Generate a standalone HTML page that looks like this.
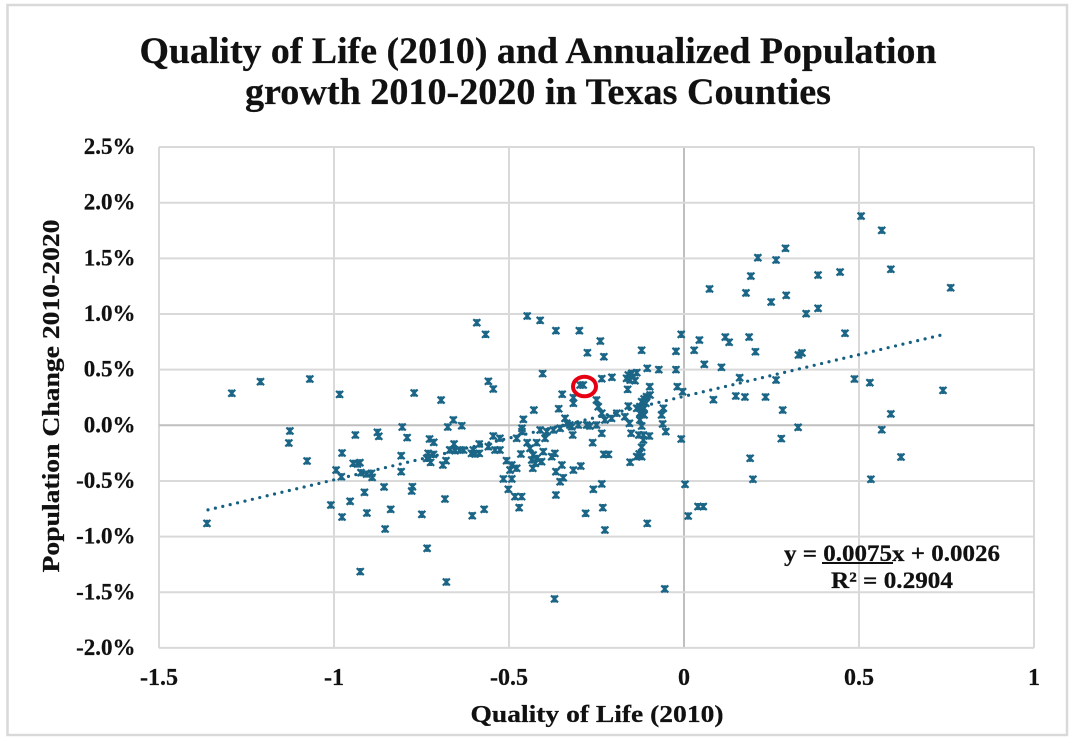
<!DOCTYPE html>
<html lang="en">
<head>
<meta charset="utf-8">
<title>Quality of Life and Population Growth in Texas Counties</title>
<style>
html,body{margin:0;padding:0;background:#fff;}
svg{display:block;}
text{font-family:"Liberation Serif",serif;font-weight:bold;fill:#111;stroke:#111;stroke-width:.25px;}
</style>
</head>
<body>
<svg id="chart" width="1076" height="743" viewBox="0 0 1076 743" xmlns="http://www.w3.org/2000/svg">
<rect x="7.5" y="5" width="1059.5" height="730" fill="#fff" stroke="#d9d9d9" stroke-width="2.5"/>
<g id="grid"></g>
<g id="trend"></g>
<g id="points"></g>
<g id="ticks"></g>
<text x="538" y="63" text-anchor="middle" font-size="37" textLength="797" lengthAdjust="spacingAndGlyphs">Quality of Life (2010) and Annualized Population</text>
<text x="538" y="104" text-anchor="middle" font-size="37" textLength="586" lengthAdjust="spacingAndGlyphs">growth 2010-2020 in Texas Counties</text>
<text x="597" y="722" text-anchor="middle" font-size="24" textLength="253" lengthAdjust="spacingAndGlyphs">Quality of Life (2010)</text>
<text transform="translate(59 396) rotate(-90)" text-anchor="middle" font-size="24" textLength="353" lengthAdjust="spacingAndGlyphs">Population Change 2010-2020</text>
<text x="892" y="561" text-anchor="middle" font-size="23.5" textLength="216" lengthAdjust="spacingAndGlyphs">y = 0.0075x + 0.0026</text>
<rect x="822" y="562" width="71" height="2" fill="#111"/>
<text x="892" y="588" text-anchor="middle" font-size="23.5" textLength="122" lengthAdjust="spacingAndGlyphs">R² = 0.2904</text>
<ellipse cx="584.5" cy="386.5" rx="11.5" ry="9.8" fill="none" stroke="#e60012" stroke-width="4"/>
</svg>
<script>
const xTicks = [-1.5, -1, -0.5, 0, 0.5, 1];
const xTickLabels = ['-1.5', '-1', '-0.5', '0', '0.5', '1'];
const yTicks = [2.5, 2, 1.5, 1, 0.5, 0, -0.5, -1, -1.5, -2];
const yTickLabels = ['2.5%', '2.0%', '1.5%', '1.0%', '0.5%', '0.0%', '-0.5%', '-1.0%', '-1.5%', '-2.0%'];
const trendSlope = 0.75;
const trendIntercept = 0.26;
const trendRange = [-1.36, 0.74];
const qualityOfLife = [
-1.292,-1.210,-1.069,-0.984,-0.771,-0.694,-1.126,-1.129,-1.077,-0.939,-0.876,-0.872,-0.805,-0.791,-0.727,-0.715,-0.675,-0.977,-0.808,
-0.731,-0.716,-0.735,-0.724,-0.731,-0.689,-0.680,-0.945,-0.926,-0.933,-0.923,-0.907,-0.893,-0.891,-0.994,-0.979,-0.808,-0.857,-0.776,-0.778,
-0.683,-0.913,-0.954,-1.009,-0.977,-0.906,-0.838,-0.749,-0.854,-0.734,-0.925,-0.679,-1.363,-0.669,
-0.592,-0.567,-0.448,-0.411,-0.366,-0.299,-0.239,-0.276,-0.229,-0.121,-0.023,-0.008,-0.404,-0.559,-0.545,-0.235,-0.206,-0.105,-0.072,-0.023,-0.019,-0.004,
-0.159,-0.149,-0.135,-0.164,-0.154,-0.140,-0.161,-0.098,-0.097,-0.107,-0.114,-0.121,-0.109,-0.126,-0.114,-0.135,-0.126,-0.114,-0.159,-0.169,-0.156,-0.121,-0.126,
-0.059,-0.064,-0.061,-0.052,-0.008,-0.151,-0.129,-0.116,-0.099,-0.116,-0.121,-0.128,-0.135,-0.121,-0.154,-0.229,-0.216,-0.261,-0.235,
-0.250,-0.245,-0.235,-0.226,-0.207,-0.192,-0.278,-0.250,-0.269,-0.302,-0.297,-0.288,-0.348,-0.316,-0.316,-0.358,-0.429,-0.459,-0.340,-0.326,-0.318,-0.321,
-0.411,-0.392,-0.373,-0.354,-0.335,-0.397,-0.478,-0.463,-0.463,-0.448,-0.440,-0.421,-0.402,-0.369,-0.378,-0.466,-0.431,-0.421,-0.407,-0.435,-0.432,-0.425,
-0.349,-0.366,-0.316,-0.295,-0.345,-0.354,-0.235,-0.259,-0.366,-0.281,-0.232,-0.226,-0.105,0.003,0.012,
-0.507,-0.492,-0.478,-0.497,-0.516,-0.492,-0.502,-0.483,-0.464,-0.471,-0.571,-0.605,-0.659,-0.635,-0.545,-0.526,-0.585,-0.559,-0.540,-0.526,
-0.657,-0.669,-0.654,-0.640,-0.630,-0.607,-0.597,-0.585,-0.602,
0.506,0.565,0.591,0.762,0.290,0.211,0.263,0.191,0.383,0.446,0.073,0.177,0.292,0.249,0.383,0.349,0.460,0.044,0.029,0.118,0.129,0.186,0.204,0.327,0.337,
0.058,0.107,0.159,0.263,0.487,0.531,0.740,0.084,0.148,0.174,0.233,0.282,0.591,0.326,0.565,0.278,0.620,0.189,0.197,0.534,
-0.055,-0.370,0.040,0.055
];
const populationChange = [
0.288,0.392,0.416,0.278,0.290,0.227,-0.051,-0.159,-0.321,-0.087,-0.063,-0.099,-0.015,-0.111,-0.123,-0.153,-0.015,-0.249,-0.273,
-0.252,-0.261,-0.297,-0.333,-0.288,-0.357,-0.318,-0.342,-0.336,-0.348,-0.426,-0.438,-0.432,-0.468,-0.402,-0.462,-0.417,-0.554,-0.552,-0.590,
-0.662,-0.602,-0.683,-0.716,-0.824,-0.788,-0.755,-0.800,-0.932,-1.105,-1.315,-1.408,-0.881,-0.222,
0.922,0.817,0.982,0.943,0.850,0.850,0.757,0.652,0.616,0.674,0.665,0.817,0.464,0.395,0.326,0.419,0.431,0.512,0.500,0.500,0.347,0.302,
0.452,0.467,0.473,0.422,0.407,0.401,0.323,0.347,0.272,0.257,0.236,0.212,0.198,0.167,0.153,0.153,0.108,0.093,0.173,0.077,0.018,-0.006,0.048,
0.153,0.093,0.012,-0.057,-0.123,-0.072,-0.087,-0.087,-0.096,-0.132,-0.198,-0.258,-0.282,-0.282,-0.332,-0.261,-0.261,-0.156,-0.072,
0.227,0.167,0.108,0.048,0.063,0.108,0.003,0.003,-0.006,0.003,0.362,0.362,0.279,0.248,0.198,0.149,0.137,0.054,0.063,0.003,-0.087,-0.013,
-0.042,-0.057,-0.042,-0.027,0.018,-0.117,-0.117,-0.027,-0.057,-0.156,-0.207,-0.156,-0.237,-0.252,-0.282,-0.258,-0.267,-0.297,-0.327,-0.312,-0.386,-0.342,
-0.357,-0.417,-0.402,-0.366,-0.471,-0.507,-0.527,-0.575,-0.626,-0.791,-0.740,-0.941,-0.881,-0.530,-0.815,
-0.318,-0.357,-0.386,-0.402,-0.482,-0.482,-0.575,-0.641,-0.641,-0.740,-0.755,-0.812,0.048,-0.004,-0.096,-0.117,-0.168,-0.192,-0.222,-0.222,
-0.168,-0.222,-0.228,-0.222,-0.222,-0.252,-0.258,-0.252,-0.222,
1.880,1.752,1.402,1.236,1.590,1.506,1.485,1.341,1.350,1.377,1.225,1.189,1.168,1.108,1.051,1.003,0.827,0.766,0.674,0.793,0.746,0.793,0.661,0.632,0.650,
0.548,0.521,0.428,0.407,0.416,0.383,0.314,0.230,0.263,0.254,0.254,0.137,0.102,-0.018,-0.040,-0.120,-0.285,-0.296,-0.485,-0.485,
-1.470,-1.560,-0.730,-0.730
];

const NS = 'http://www.w3.org/2000/svg';
const xScale = v => 684 + v * 350;
const yScale = v => 425.3 - v * 111.3;
const gridLayer = document.getElementById('grid');
const trendLayer = document.getElementById('trend');
const pointLayer = document.getElementById('points');
const tickLayer = document.getElementById('ticks');

function line(parent, x1, y1, x2, y2, stroke, width) {
  const el = document.createElementNS(NS, 'line');
  el.setAttribute('x1', x1);
  el.setAttribute('y1', y1);
  el.setAttribute('x2', x2);
  el.setAttribute('y2', y2);
  el.setAttribute('stroke', stroke);
  el.setAttribute('stroke-width', width);
  parent.appendChild(el);
  return el;
}

const xMin = xScale(xTicks[0]);
const xMax = xScale(xTicks[xTicks.length - 1]);
const yTop = yScale(yTicks[0]);
const yBottom = yScale(yTicks[yTicks.length - 1]);

xTicks.forEach((t, i) => {
  const gl = line(gridLayer, xScale(t), yTop, xScale(t), yBottom, t === 0 ? '#bfbfbf' : '#d9d9d9', 2);
  
  
  const label = document.createElementNS(NS, 'text');
  
  
  label.setAttribute('x', xScale(t));
  label.setAttribute('y', 685);
  label.setAttribute('text-anchor', 'middle');
  label.setAttribute('font-size', '24');
  label.textContent = xTickLabels[i];
  tickLayer.appendChild(label);
});

yTicks.forEach((t, i) => {
  const gl = line(gridLayer, xMin, yScale(t), xMax, yScale(t), t === 0 ? '#bfbfbf' : '#d9d9d9', 2);
  
  
  const label = document.createElementNS(NS, 'text');
  
  
  label.setAttribute('x', 135.5);
  label.setAttribute('y', yScale(t) + 7);
  label.setAttribute('text-anchor', 'end');
  label.setAttribute('font-size', '23');
  label.textContent = yTickLabels[i];
  tickLayer.appendChild(label);
});

const trendLine = line(trendLayer,
  xScale(trendRange[0]), yScale(trendSlope * trendRange[0] + trendIntercept),
  xScale(trendRange[1]), yScale(trendSlope * trendRange[1] + trendIntercept),
  '#156082', 3.2);


trendLine.setAttribute('stroke-dasharray', '0 7.6');
trendLine.setAttribute('stroke-linecap', 'round');

qualityOfLife.forEach((q, i) => {
  const cx = xScale(q);
  const cy = yScale(populationChange[i]);
  const mark = document.createElementNS(NS, 'path');
  
  
  mark.setAttribute('d',
    'M' + (cx - 3.5) + ' ' + (cy - 3.5) + 'L' + (cx + 3.5) + ' ' + (cy + 3.5) +
    'M' + (cx + 3.5) + ' ' + (cy - 3.5) + 'L' + (cx - 3.5) + ' ' + (cy + 3.5) +
    'M' + (cx - 1.5) + ' ' + (cy - 2.5) + 'H' + (cx + 1.5) +
    'M' + (cx - 1.5) + ' ' + (cy + 2.5) + 'H' + (cx + 1.5));
  mark.setAttribute('fill', 'none');
  mark.setAttribute('stroke', '#1b6586');
  mark.setAttribute('stroke-width', '2.2');
  pointLayer.appendChild(mark);
});
</script>
</body>
</html>
